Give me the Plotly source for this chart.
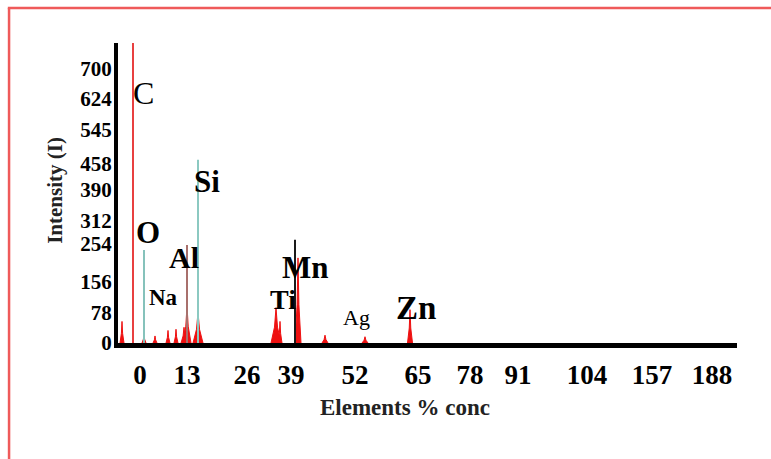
import plotly.graph_objects as go

# Spectrum data (channel on the energy axis, intensity in counts)
carbon_channel = 15
carbon_intensity = 765

line_elements = ["O", "Al", "Si", "Mn"]
line_channel = [26, 69, 80, 177]
line_intensity = [237, 250, 467, 263]

peak_channel = [4, 26, 37, 50, 58, 66, 69, 80, 158, 162, 180, 207, 247, 292]
peak_intensity = [55, 22, 18, 32, 35, 40, 95, 78, 90, 55, 217, 20, 16, 85]

# Energy-axis tick labels
tick_labels = ["0", "13", "26", "39", "52", "65", "78", "91", "104", "157", "188"]
y_tick_labels = [0, 78, 156, 254, 312, 390, 458, 545, 624, 700]

# Element labels
label_text = ["C", "O", "Na", "Al", "Si", "Ti", "Mn", "Ag", "Zn"]

# ---- styling / layout helpers ----
tick_positions = [22, 69, 129, 173, 237, 300, 352, 400, 469, 534, 594]
line_colors = ["#86c2bb", "#a8706c", "#8cc9c1", "#1a1a1a"]
peak_halfwidth = [2, 2, 2, 2, 2, 3, 4, 5, 5, 2, 3, 3, 3, 2.5]
label_x = [25, 30, 45, 66, 89, 165, 187, 238, 298]
label_y = [637, 283, 117, 217, 413, 110, 192, 64, 89]
label_size = [32, 31, 23, 30, 31, 28, 31, 22, 33]
label_weight = ["normal", "bold", "bold", "bold", "bold", "bold", "bold", "normal", "bold"]

SERIF = "Liberation Serif, Times New Roman, serif"
RED = "#ee1111"

fig = go.Figure()

# red spectral peaks
for c, h, w in zip(peak_channel, peak_intensity, peak_halfwidth):
    fig.add_trace(go.Scatter(
        x=[c - w, c - w * 0.3, c, c + w * 0.3, c + w],
        y=[0, h * 0.45, h, h * 0.45, 0],
        mode="lines", fill="toself", fillcolor=RED,
        line=dict(color=RED, width=1), hoverinfo="skip", showlegend=False,
    ))

# characteristic line markers
for c, h, col in zip(line_channel, line_intensity, line_colors):
    fig.add_trace(go.Scatter(
        x=[c, c], y=[0, h], mode="lines",
        line=dict(color=col, width=2), hoverinfo="skip", showlegend=False,
    ))

# carbon line, running slightly below the baseline
fig.add_trace(go.Scatter(
    x=[carbon_channel, carbon_channel], y=[-28, carbon_intensity], mode="lines",
    line=dict(color="#e84040", width=2), cliponaxis=False,
    hoverinfo="skip", showlegend=False,
))

for t, x, y, s, wgt in zip(label_text, label_x, label_y, label_size, label_weight):
    fig.add_annotation(
        x=x, y=y, text=t, showarrow=False,
        font=dict(family=SERIF, size=s, color="black", weight=wgt),
    )

fig.add_annotation(
    xref="paper", yref="paper", x=-0.102, y=0.51, text="Intensity (I)",
    textangle=-90, showarrow=False, xanchor="center", yanchor="middle",
    font=dict(family=SERIF, size=21, color="#222", weight="bold"),
)
fig.add_annotation(
    xref="paper", yref="paper", x=0.464, y=-0.215, text="Elements % conc",
    showarrow=False, xanchor="center", yanchor="middle",
    font=dict(family=SERIF, size=23, color="#222", weight="bold"),
)

# frame lines (left and top)
fig.add_shape(type="line", xref="paper", yref="paper",
              x0=-0.176, x1=-0.176, y0=1.117, y1=-0.40,
              line=dict(color="#ef5a5a", width=2.5))
fig.add_shape(type="line", xref="paper", yref="paper",
              x0=-0.178, x1=1.07, y0=1.117, y1=1.117,
              line=dict(color="#ef5a5a", width=2.5))

fig.update_layout(
    width=771, height=459,
    margin=dict(l=118, r=34, t=43, b=116),
    paper_bgcolor="white", plot_bgcolor="white",
    showlegend=False,
    xaxis=dict(
        range=[0, 619], showgrid=False, zeroline=False,
        showline=True, linecolor="black", linewidth=5,
        tickmode="array", tickvals=tick_positions, ticktext=tick_labels,
        ticks="", ticklabelstandoff=4,
        tickfont=dict(family=SERIF, size=27, color="black", weight="bold"),
    ),
    yaxis=dict(
        range=[0, 765], showgrid=False, zeroline=False,
        showline=True, linecolor="black", linewidth=4,
        tickmode="array", tickvals=y_tick_labels,
        ticktext=[str(v) for v in y_tick_labels],
        ticks="", ticklabelstandoff=-2,
        tickfont=dict(family=SERIF, size=21, color="black", weight="bold"),
    ),
)

fig.write_html("out.html")
